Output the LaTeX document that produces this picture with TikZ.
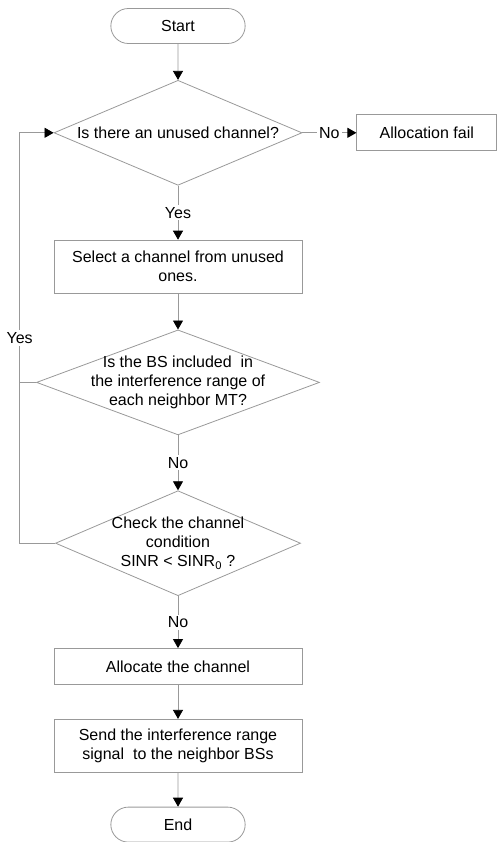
\documentclass[tikz,border=0pt]{standalone}
\usepackage{fontspec}
\setmainfont{Liberation Sans}
\usetikzlibrary{positioning,shapes.geometric,shapes.misc,arrows.meta}
\definecolor{linegray}{gray}{0.6}
\tikzset{node distance=36pt,
  every node/.style={font=\fontsize{16}{19}\selectfont},
  >={Triangle[black,length=9pt,width=10pt]},
  grayline/.style={draw=linegray, line width=0.8pt},
  terminal/.style={grayline, rounded rectangle, minimum width=141pt, minimum height=35pt},
  process/.style={grayline, rectangle, minimum width=248pt, minimum height=36pt, align=center},
  decision/.style={grayline, diamond, shape aspect=2.7, inner sep=-8pt, align=center, minimum height=105pt},
  answer/.style={fill=white, inner sep=2pt}}

\begin{document}
\begin{tikzpicture}
  \useasboundingbox (0,0) rectangle (498pt,-842pt);

  \node[terminal] (start) at (178pt,-26pt) {Start};
  \node[decision, minimum width=248pt, below=of start] (unused) {Is there an unused channel?};
  \node[process, minimum height=53pt, below=54pt of unused] (select) {Select a channel from unused\\ones.};
  \node[decision, minimum width=283pt, below=of select] (inrange) {Is the BS included\ \ in\\the interference range of\\each neighbor MT?};
  \node[decision, minimum width=245pt, below=55pt of inrange] (sinr) {Check the channel\\condition\\SINR < SINR\textsubscript{0} ?};
  \node[process, below=52pt of sinr] (allocate) {Allocate the channel};
  \node[process, minimum height=53pt, below=34pt of allocate] (send) {Send the interference range\\signal\ \ to the neighbor BSs};
  \node[terminal, below=34pt of send] (stop) {End};

  \node[process, minimum width=140pt, right=54pt of unused] (fail) {Allocation fail};

  \coordinate (loop) at ([xshift=-35.5pt]sinr.west);

  \draw[grayline,->] (start) -- (unused);
  \draw[grayline,->] (unused) -- node[answer] {Yes} (select);
  \draw[grayline,->] (unused) -- node[answer] {No} (fail);
  \draw[grayline,->] (select) -- (inrange);
  \draw[grayline,->] (inrange) -- node[answer] {No} (sinr);
  \draw[grayline,->] (sinr) -- node[answer] {No} (allocate);
  \draw[grayline,->] (allocate) -- (send);
  \draw[grayline,->] (send) -- (stop);

  \draw[grayline,->] (sinr) -- (loop) |- node[answer, pos=0.25] {Yes} (unused);
  \draw[grayline] (inrange) -- (inrange -| loop);
\end{tikzpicture}
\end{document}
